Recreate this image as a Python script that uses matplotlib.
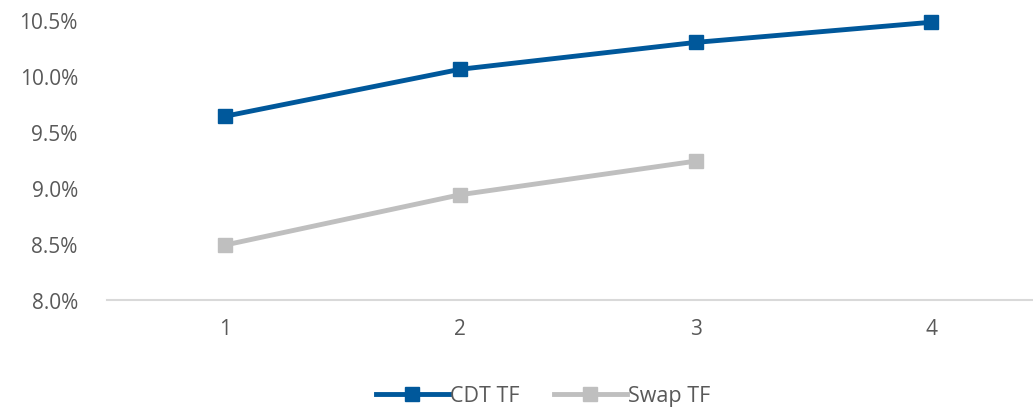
import matplotlib
matplotlib.use("Agg")
import matplotlib.pyplot as plt
from matplotlib.ticker import FuncFormatter

plt.rcParams['font.family'] = ['Open Sans', 'DejaVu Sans']

# data
periods = [1, 2, 3, 4]
cdt_tf = [9.64, 10.06, 10.30, 10.48]
swap_periods = [1, 2, 3]
swap_tf = [8.49, 8.94, 9.24]

text_col = "#595959"
blue = "#00589B"
grey = "#BFBFBF"

fig = plt.figure(figsize=(10.33, 4.10), dpi=100)
ax = fig.add_axes([107 / 1033, 109 / 410, 942 / 1033, 280 / 410])

ax.plot(periods, cdt_tf, color=blue, lw=3.5, marker="s", ms=10, label="CDT TF", clip_on=False)
ax.plot(swap_periods, swap_tf, color=grey, lw=3.5, marker="s", ms=10, label="Swap TF", clip_on=False)

ax.set_xlim(0.5, 4.5)
ax.set_ylim(8.0, 10.5)
ax.set_yticks([8.0, 8.5, 9.0, 9.5, 10.0, 10.5])
ax.yaxis.set_major_formatter(FuncFormatter(lambda v, p: f"{v:.1f}%"))
ax.set_xticks(periods)

for s in ["top", "right", "left"]:
    ax.spines[s].set_visible(False)
ax.spines["bottom"].set_color("#D9D9D9")
ax.spines["bottom"].set_linewidth(1.5)
ax.tick_params(axis="both", length=0, labelsize=15, colors=text_col)
ax.tick_params(axis="y", pad=21)
ax.tick_params(axis="x", pad=13)

leg = fig.legend(loc="center", bbox_to_anchor=(543 / 1033, 13 / 410), ncol=2,
                 frameon=False, fontsize=15.5, handlelength=3.4, handletextpad=0.05,
                 columnspacing=1.6)
for t in leg.get_texts():
    t.set_color(text_col)

fig.savefig("out.png", dpi=100)
